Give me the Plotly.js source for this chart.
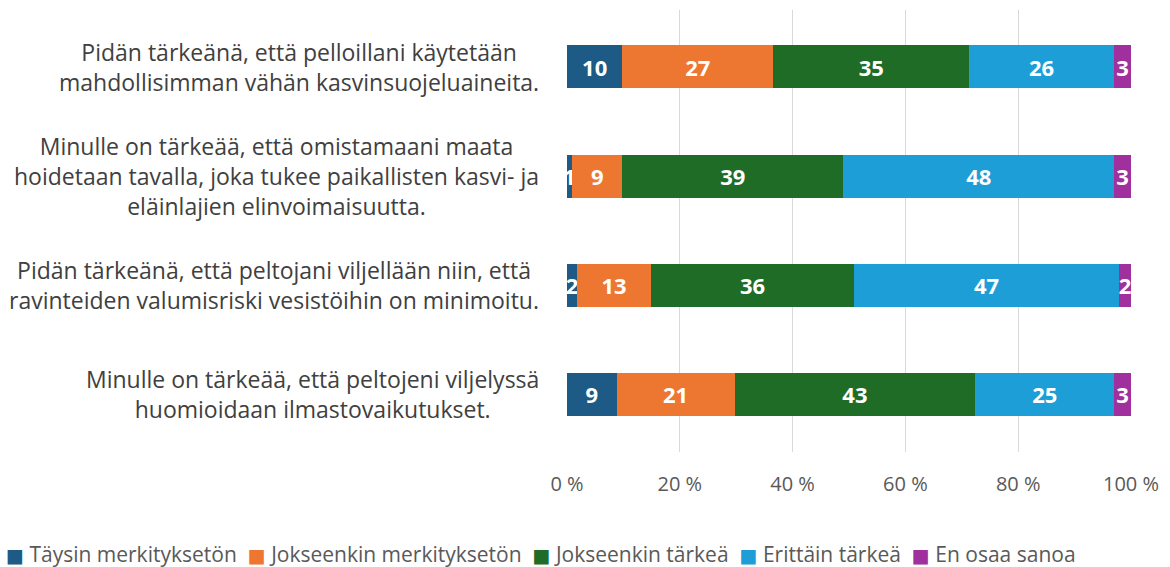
<!DOCTYPE html>
<html>
<head>
<meta charset="utf-8">
<script src="https://cdn.plot.ly/plotly-3.0.1.min.js"></script>
<style>
html,body{margin:0;padding:0;background:#ffffff;}
#chart{width:1170px;height:567px;}
</style>
</head>
<body>
<div id="chart"></div>
<script>
// ---- data (top to bottom) ----
const categories = ["Q1", "Q2", "Q3", "Q4"];
const categoryLabels = [
  "Pidän tärkeänä, että pelloillani käytetään<br>mahdollisimman vähän kasvinsuojeluaineita.",
  "Minulle on tärkeää, että omistamaani maata<br>hoidetaan tavalla, joka tukee paikallisten kasvi- ja<br>eläinlajien elinvoimaisuutta.",
  "Pidän tärkeänä, että peltojani viljellään niin, että<br>ravinteiden valumisriski vesistöihin on minimoitu.",
  "Minulle on tärkeää, että peltojeni viljelyssä<br>huomioidaan ilmastovaikutukset."
];
const seriesNames = ["Täysin merkityksetön", "Jokseenkin merkityksetön", "Jokseenkin tärkeä", "Erittäin tärkeä", "En osaa sanoa"];
const taysinMerkitykseton     = [9.8, 0.9, 1.8, 8.8];
const jokseenkinMerkitykseton = [26.8, 8.9, 13.1, 20.9];
const jokseenkinTarkea        = [34.7, 39.2, 36.0, 42.7];
const erittainTarkea          = [25.7, 48.0, 47.0, 24.6];
const enOsaaSanoa             = [3.0, 3.0, 2.1, 3.0];
const xTicks = [0, 20, 40, 60, 80, 100];

const seriesValues = [taysinMerkitykseton, jokseenkinMerkitykseton, jokseenkinTarkea, erittainTarkea, enOsaaSanoa];
const colors = ["#1d5b86", "#ed7631", "#1f6c27", "#1d9ed6", "#a0309e"];

const traces = seriesNames.map((name, i) => ({
  type: "bar",
  orientation: "h",
  name: name,
  y: categories,
  x: seriesValues[i],
  marker: {color: colors[i], line: {width: 0}},
  text: seriesValues[i].map(v => String(Math.round(v))),
  textposition: "inside",
  insidetextanchor: "middle",
  textangle: 0,
  constraintext: "none",
  cliponaxis: false,
  textfont: {family: "Open Sans, sans-serif", size: 22, color: "#ffffff", weight: "bold"},
  hoverinfo: "skip",
  showlegend: false
}));

// layout geometry
const W = 1170, H = 567;
const mL = 567, mR = 39, mT = 10, mB = 115;
const plotW = W - mL - mR;
const plotH = H - mT - mB;
const pxToPaperX = px => (px - mL) / plotW;
const pxToPaperY = py => (H - mB - py) / plotH;

const annotations = categoryLabels.map((lbl, ci) => ({
  text: lbl,
  xref: "paper", yref: "y",
  x: pxToPaperX(541), y: categories[ci],
  xanchor: "right", yanchor: "middle",
  align: "center",
  showarrow: false,
  font: {family: "Open Sans, sans-serif", size: 23, color: "#404040"}
}));

// legend line (Excel-style): coloured squares followed by series names
const nb = "\u00a0";
const legendText = seriesNames.map((n, i) =>
  '<span style="color:' + colors[i] + ';font-size:19px;font-family:DejaVu Sans">\u25A0</span>' + nb + n
).join(nb + nb);
annotations.push({
  text: legendText,
  xref: "paper", yref: "paper",
  x: pxToPaperX(4), y: pxToPaperY(554),
  xanchor: "left", yanchor: "middle",
  align: "left",
  showarrow: false,
  font: {family: "Open Sans, sans-serif", size: 21, color: "#595959"}
});

const layout = {
  width: W, height: H,
  margin: {l: mL, r: mR, t: mT, b: mB, pad: 0},
  paper_bgcolor: "#ffffff",
  plot_bgcolor: "#ffffff",
  barmode: "stack",
  bargap: 0.606,
  showlegend: false,
  xaxis: {
    range: [0, 100.0001],
    tickvals: xTicks,
    ticktext: xTicks.map(v => v + " %"),
    showgrid: true,
    gridcolor: "#d9d9d9",
    gridwidth: 1,
    zeroline: false,
    showline: false,
    ticks: "",
    ticklabelstandoff: 18,
    tickfont: {family: "Open Sans, sans-serif", size: 20, color: "#595959"},
    fixedrange: true
  },
  yaxis: {
    type: "category",
    categoryorder: "array",
    categoryarray: categories,
    range: [3.527, -0.522],
    showticklabels: false,
    showgrid: false,
    zeroline: false,
    showline: false,
    ticks: "",
    fixedrange: true
  },
  annotations: annotations
};

Plotly.newPlot("chart", traces, layout, {displayModeBar: false, staticPlot: true});
</script>
</body>
</html>
